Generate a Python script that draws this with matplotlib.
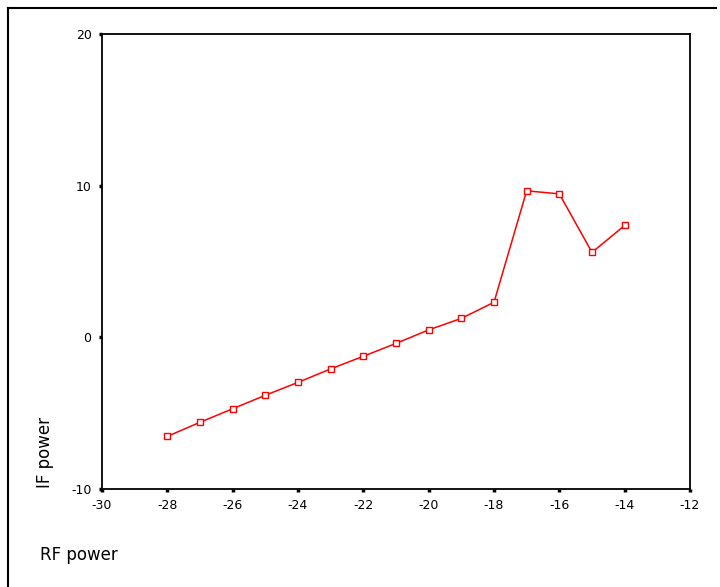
import matplotlib
matplotlib.use("Agg")
import matplotlib.pyplot as plt
from matplotlib.lines import Line2D

# RF power (x) vs IF power (y)
rf_power = [-28, -27, -26, -25, -24, -23, -22, -21, -20, -19, -18, -17, -16, -15, -14]
if_power = [-6.53, -5.6, -4.71, -3.82, -2.97, -2.08, -1.25, -0.4, 0.49, 1.25, 2.31,
            9.66, 9.46, 5.6, 7.38]

x_ticks = [-30, -28, -26, -24, -22, -20, -18, -16, -14, -12]
y_ticks = [-10, 0, 10, 20]

plt.rcParams['font.family'] = ['DejaVu Sans']

fig = plt.figure(figsize=(7.2, 5.87), dpi=100)
ax = fig.add_axes([102 / 720, 1 - 489 / 587, (690 - 102) / 720, (489 - 34) / 587])

ax.plot(rf_power, if_power, color='red', linewidth=1.1, marker='s', markersize=5,
        markerfacecolor='white', markeredgecolor='red', markeredgewidth=1.0)

ax.set_xlim(-30, -12)
ax.set_ylim(-10, 20)
ax.set_xticks(x_ticks)
ax.set_yticks(y_ticks)
ax.set_xticklabels(['-' + str(abs(t)) for t in x_ticks], fontsize=9)
ax.set_yticklabels(['-' + str(abs(t)) if t < 0 else str(t) for t in y_ticks], fontsize=9)
ax.tick_params(direction='out', length=2.5, width=2.5, pad=5)

for s in ax.spines.values():
    s.set_linewidth(1.3)

fig.text(40 / 720, 1 - 555 / 587, 'RF power', fontsize=12, va='center', ha='left')
fig.text(45 / 720, 1 - 452 / 587, 'IF power', fontsize=12, va='center', ha='center',
         rotation=90)

# outer frame (top and left edges visible)
fig.add_artist(Line2D([8 / 720, 716 / 720], [1 - 8 / 587, 1 - 8 / 587],
                      transform=fig.transFigure, color='black', linewidth=1.5))
fig.add_artist(Line2D([8 / 720, 8 / 720], [1 - 8 / 587, 0],
                      transform=fig.transFigure, color='black', linewidth=1.5))

fig.savefig('out.png', dpi=100)
